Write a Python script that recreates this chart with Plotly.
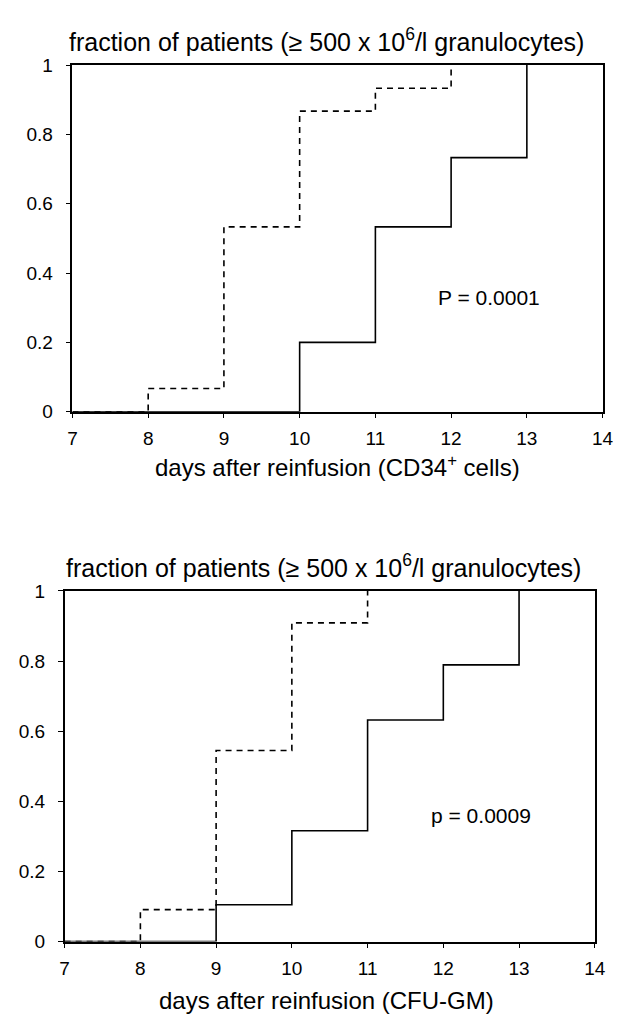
import plotly.graph_objects as go

# ---- data ----
days_top_dashed = [7, 8, 9, 10, 11, 12]
frac_top_dashed = [0.0, 0.067, 0.533, 0.867, 0.933, 1.0]
days_top_solid = [7, 10, 11, 12, 13]
frac_top_solid = [0.0, 0.2, 0.533, 0.733, 1.0]

days_bot_dashed = [7, 8, 9, 10, 11]
frac_bot_dashed = [0.0, 0.091, 0.545, 0.909, 1.0]
days_bot_solid = [7, 9, 10, 11, 12, 13]
frac_bot_solid = [0.0, 0.105, 0.316, 0.632, 0.789, 1.0]

x_ticks = [7, 8, 9, 10, 11, 12, 13, 14]
y_ticks = [0, 0.2, 0.4, 0.6, 0.8, 1]

y_title = "fraction of patients (≥ 500 x 10<sup>6</sup>/l granulocytes)"
x_title_top = "days after reinfusion (CD34<sup>+</sup> cells)"
x_title_bot = "days after reinfusion (CFU-GM)"
p_top = "P = 0.0001"
p_bot = "p = 0.0009"

W, H = 628, 1019
FONT = "Liberation Sans, Arial, Helvetica, sans-serif"

fig = go.Figure()

line_solid = dict(color="black", width=1.6, shape="hv")
line_dash = dict(color="black", width=1.6, shape="hv", dash="6px,5px")

fig.add_trace(go.Scatter(x=days_top_dashed, y=frac_top_dashed, mode="lines",
                         line=line_dash, xaxis="x", yaxis="y", showlegend=False))
fig.add_trace(go.Scatter(x=days_top_solid, y=frac_top_solid, mode="lines",
                         line=line_solid, xaxis="x", yaxis="y", showlegend=False))
fig.add_trace(go.Scatter(x=days_bot_dashed, y=frac_bot_dashed, mode="lines",
                         line=line_dash, xaxis="x2", yaxis="y2", showlegend=False))
fig.add_trace(go.Scatter(x=days_bot_solid, y=frac_bot_solid, mode="lines",
                         line=line_solid, xaxis="x2", yaxis="y2", showlegend=False))

def px_dom(a, b, total):
    return [a / total, b / total]

def py_dom(top, bottom):
    return [(H - bottom) / H, (H - top) / H]

axis_common = dict(showgrid=False, zeroline=False, showline=True, linecolor="black",
                   linewidth=1.5, mirror=True, ticks="outside", ticklen=5,
                   tickcolor="black", tickwidth=1,
                   tickfont=dict(family=FONT, size=19, color="black"))

fig.update_layout(
    width=W, height=H,
    margin=dict(l=0, r=0, t=0, b=0),
    paper_bgcolor="white", plot_bgcolor="white",
    xaxis=dict(domain=px_dom(61, 605, W), range=[7, 14], tickvals=x_ticks,
               anchor="y", ticklabelstandoff=4, **axis_common),
    yaxis=dict(domain=py_dom(48, 402), range=[0, 1], tickvals=y_ticks,
               anchor="x", ticklabelstandoff=9, **axis_common),
    xaxis2=dict(domain=px_dom(53, 597, W), range=[7, 14], tickvals=x_ticks,
                anchor="y2", ticklabelstandoff=4, **axis_common),
    yaxis2=dict(domain=py_dom(585, 943), range=[0, 1], tickvals=y_ticks,
                anchor="x2", ticklabelstandoff=9, **axis_common),
)

title_font = dict(family=FONT, size=25, color="black")
xtitle_font = dict(family=FONT, size=24, color="black")
annots = [
    dict(text=y_title, x=322 / W, y=(H - 22) / H, xref="paper", yref="paper",
         showarrow=False, font=title_font, xanchor="center", yanchor="middle"),
    dict(text=x_title_top, x=333 / W, y=(H - 457) / H, xref="paper", yref="paper",
         showarrow=False, font=xtitle_font, xanchor="center", yanchor="middle"),
    dict(text=y_title, x=319 / W, y=(H - 560) / H, xref="paper", yref="paper",
         showarrow=False, font=title_font, xanchor="center", yanchor="middle"),
    dict(text=x_title_bot, x=322 / W, y=(H - 1003) / H, xref="paper", yref="paper",
         showarrow=False, font=xtitle_font, xanchor="center", yanchor="middle"),
    dict(text=p_top, x=12.5, y=0.33, xref="x", yref="y", showarrow=False,
         font=dict(family=FONT, size=21, color="black")),
    dict(text=p_bot, x=12.5, y=0.36, xref="x2", yref="y2", showarrow=False,
         font=dict(family=FONT, size=21, color="black")),
]
fig.update_layout(annotations=annots)

fig.write_html("out.html")
